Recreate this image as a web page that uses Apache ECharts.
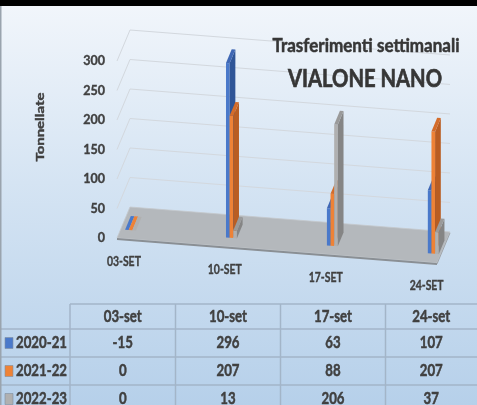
<!DOCTYPE html>
<html><head><meta charset="utf-8">
<script src="https://cdn.jsdelivr.net/npm/echarts@6/dist/echarts.min.js"></script>
<style>html,body{margin:0;padding:0;background:#000;}#c{width:477px;height:405px;}</style>
</head><body><div id="c"></div>
<script>
// ---- data ----
const categories = ['03-SET', '10-SET', '17-SET', '24-SET'];
const tableHeaders = ['03-set', '10-set', '17-set', '24-set'];
const seriesNames = ['2020-21', '2021-22', '2022-23'];
const values2020 = [-15, 296, 63, 107];
const values2021 = [0, 207, 88, 207];
const values2022 = [0, 13, 206, 37];
const yTicks = [0, 50, 100, 150, 200, 250, 300];
const allValues = [values2020, values2021, values2022];

// ---- style / projection ----
const FONT = "Lato, 'Open Sans', Roboto, sans-serif";
const TXT = '#404040';
const palette = [
  { front: '#4a79ca', side: '#2f5597', top: '#3f67b4' },
  { front: '#ee8236', side: '#b95d22', top: '#d46c2a' },
  { front: '#b0b0b0', side: '#858585', top: '#9a9a9a' }
];
const X_MIN = -0.098, X_MAX = 3.073;
const SKEW = 0.078;
const DEPTH = [13, -31];
const BAR_FRONT = 0.28, BAR_DEPTH = 0.44, BAR_W = 0.036;

const mctx = document.createElement('canvas').getContext('2d');
function fit(txt, font, target) { mctx.font = font; return target / mctx.measureText(txt).width; }

function P(api, x, v, d) {
  const p = api.coord([x, v]);
  const x0 = api.coord([X_MIN, 0])[0];
  return [p[0] + d * DEPTH[0], p[1] + SKEW * (p[0] - x0) + d * DEPTH[1]];
}

const floorSeries = {
  type: 'custom', name: 'floor', clip: false, silent: true, z: 1,
  data: [[0, 0]],
  renderItem: function (params, api) {
    const a = P(api, X_MIN, 0, 0), b = P(api, X_MAX, 0, 0), c = P(api, X_MAX, 0, 1), d = P(api, X_MIN, 0, 1);
    return { type: 'group', children: [
      { type: 'polygon', shape: { points: [a, b, c, d] }, style: { fill: '#b4b8bc', stroke: '#c4c8cc', lineWidth: 0.8 } },
      { type: 'line', shape: { x1: a[0], y1: a[1] + 1, x2: b[0], y2: b[1] + 1 }, style: { stroke: '#8a8f94', lineWidth: 2 } },
      { type: 'line', shape: { x1: b[0], y1: b[1] + 1, x2: c[0], y2: c[1] + 1 }, style: { stroke: '#a0a5aa', lineWidth: 1 } }
    ] };
  }
};

const gridSeries = {
  type: 'custom', name: 'grid', clip: false, silent: true, z: 1,
  data: yTicks.filter(v => v > 0).map(v => [0, v]),
  renderItem: function (params, api) {
    const v = api.value(1);
    const a = P(api, X_MIN, v, 0), b = P(api, X_MIN, v, 1), c = P(api, X_MAX, v, 1);
    return { type: 'polyline', shape: { points: [a, b, c] }, style: { stroke: '#d3d8de', lineWidth: 1, fill: null } };
  }
};

function barSeries(k) {
  return {
    type: 'custom', name: seriesNames[k], clip: false, z: 3,
    data: allValues[k].map((v, i) => [i, v]),
    renderItem: function (params, api) {
      const i = api.value(0), v = api.value(1);
      const top = Math.max(v, 0);
      const l = i - 1.5 * BAR_W + k * BAR_W, r = l + BAR_W;
      const f0 = BAR_FRONT, f1 = BAR_FRONT + BAR_DEPTH;
      const col = palette[k];
      const kids = [];
      if (top > 0) {
        kids.push({ type: 'polygon', shape: { points: [P(api, l, 0, f0), P(api, r, 0, f0), P(api, r, top, f0), P(api, l, top, f0)] },
          style: { fill: col.front } });
        kids.push({ type: 'polygon', shape: { points: [P(api, r, 0, f0), P(api, r, 0, f1), P(api, r, top, f1), P(api, r, top, f0)] },
          style: { fill: col.side } });
      }
      kids.push({ type: 'polygon', shape: { points: [P(api, l, top, f0), P(api, r, top, f0), P(api, r, top, f1), P(api, l, top, f1)] },
        style: { fill: top > 0 ? col.top : col.front } });
      return { type: 'group', children: kids };
    }
  };
}

const CAT_FONT = 'bold 13px ' + FONT;
const CAT_SX = fit('10-SET', CAT_FONT, 34);
const labelSeries = {
  type: 'custom', name: 'categories', clip: false, silent: true, z: 2,
  data: categories.map((c, i) => [i, 0]),
  renderItem: function (params, api) {
    const i = api.value(0);
    const p = P(api, i, 0, 0);
    return { type: 'text', x: p[0] - 3, y: p[1] + 23, scaleX: CAT_SX,
      style: { text: categories[i], fill: TXT, font: CAT_FONT, stroke: TXT, lineWidth: 0.35,
        align: 'center', verticalAlign: 'middle', textAlign: 'center', textVerticalAlign: 'middle' } };
  }
};

// ---- data table (built from arrays) ----
const colX = [70, 175.5, 280.5, 385.5, 477];
const rowY = [304, 329, 357, 385, 413];
const TAB_FONT = 'bold 17px ' + FONT;
const TAB_SX = fit('2020-21', TAB_FONT, 51);
const tableEls = [];
const LINE = '#a3b5c8';
tableEls.push({ type: 'line', shape: { x1: colX[0], y1: rowY[0], x2: 477, y2: rowY[0] }, style: { stroke: LINE, lineWidth: 1.5 } });
for (let r = 1; r < rowY.length - 1; r++) {
  tableEls.push({ type: 'line', shape: { x1: 0, y1: rowY[r], x2: 477, y2: rowY[r] }, style: { stroke: LINE, lineWidth: 1.5 } });
}
for (let c = 0; c < colX.length - 1; c++) {
  tableEls.push({ type: 'line', shape: { x1: colX[c], y1: rowY[0], x2: colX[c], y2: 405 }, style: { stroke: LINE, lineWidth: 1.5 } });
}
function cellText(txt, x, y, align) {
  return { type: 'text', x: x, y: y, z: 10, scaleX: TAB_SX,
    style: { text: txt, fill: TXT, font: TAB_FONT, stroke: TXT, lineWidth: 0.5,
      align: align || 'center', verticalAlign: 'middle', textAlign: align || 'center', textVerticalAlign: 'middle' } };
}
tableHeaders.forEach((h, j) => tableEls.push(cellText(h, (colX[j] + colX[j + 1]) / 2, (rowY[0] + rowY[1]) / 2 + 0.5)));
seriesNames.forEach((n, k) => {
  const cy = (rowY[k + 1] + rowY[k + 2]) / 2;
  tableEls.push({ type: 'rect', shape: { x: 5, y: cy - 5.5, width: 8, height: 11 },
    style: { fill: palette[k].front, stroke: '#7f8fa0', lineWidth: 0.6 } });
  tableEls.push(cellText(n, 16, cy, 'left'));
  allValues[k].forEach((v, j) => tableEls.push(cellText(String(v), (colX[j] + colX[j + 1]) / 2, cy)));
});

const T1_FONT = 'bold 18.5px ' + FONT, T2_FONT = 'bold 25.5px ' + FONT, Y_FONT = 'bold 11px ' + FONT;

const chart = echarts.init(document.getElementById('c'), null, { renderer: 'canvas' });
chart.setOption({
  animation: false,
  backgroundColor: { type: 'linear', x: 0, y: 0, x2: 0, y2: 1, colorStops: [
    { offset: 0, color: '#f2f6fb' }, { offset: 0.45, color: '#d5e4f3' }, { offset: 1, color: '#b6d0ea' } ] },
  grid: { left: 117, right: 40, top: 61, bottom: 167 },
  xAxis: { type: 'value', min: X_MIN, max: X_MAX, show: false },
  yAxis: { type: 'value', min: 0, max: 300, interval: 50,
    axisLine: { show: false }, axisTick: { show: false }, splitLine: { show: false },
    axisLabel: { color: TXT, fontWeight: 'bold', fontSize: 12.5, fontFamily: FONT, margin: 12,
      textBorderColor: TXT, textBorderWidth: 0.35 } },
  graphic: { elements: [
    { type: 'rect', shape: { x: 0, y: 0, width: 477, height: 6 }, style: { fill: '#000' }, z: 20 },
    { type: 'rect', shape: { x: 0, y: 6, width: 1.5, height: 399 }, style: { fill: '#9aa4ae' }, z: 20 },
    { type: 'text', x: 366, y: 46, z: 5, scaleX: fit('Trasferimenti settimanali', T1_FONT, 187),
      style: { text: 'Trasferimenti settimanali', fill: '#363636', font: T1_FONT, stroke: '#363636', lineWidth: 0.5,
        align: 'center', verticalAlign: 'middle', textAlign: 'center', textVerticalAlign: 'middle' } },
    { type: 'text', x: 365, y: 79, z: 5, scaleX: fit('VIALONE NANO', T2_FONT, 154),
      style: { text: 'VIALONE NANO', fill: '#363636', font: T2_FONT, stroke: '#363636', lineWidth: 0.7,
        align: 'center', verticalAlign: 'middle', textAlign: 'center', textVerticalAlign: 'middle' } },
    { type: 'text', x: 40, y: 127, rotation: Math.PI / 2, scaleX: fit('Tonnellate', Y_FONT, 69),
      style: { text: 'Tonnellate', fill: TXT, font: Y_FONT, stroke: TXT, lineWidth: 0.4,
        align: 'center', verticalAlign: 'middle', textAlign: 'center', textVerticalAlign: 'middle' } }
  ].concat(tableEls) },
  series: [floorSeries, gridSeries, labelSeries, barSeries(0), barSeries(1), barSeries(2)]
});
</script></body></html>
